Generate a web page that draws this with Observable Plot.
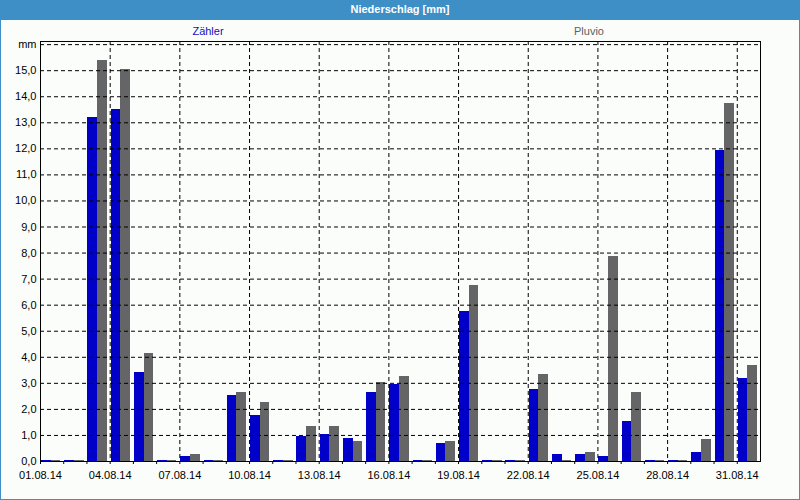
<!DOCTYPE html>
<html>
<head>
<meta charset="utf-8">
<script src="https://cdn.jsdelivr.net/npm/d3@7"></script>
<script src="https://cdn.jsdelivr.net/npm/@observablehq/plot@0.6"></script>
<style>
  html, body { margin: 0; padding: 0; background: #fbfdfb; }
  #title { position: absolute; left: 0; top: 0; width: 800px; height: 20px; background: #3d8fc6; color: #fff;
           font: bold 11px "Liberation Sans", Arial, sans-serif; text-align: center; line-height: 19px; }
  .leg { position: absolute; top: 25px; font: 11px "Liberation Sans", Arial, sans-serif; transform: translateX(-50%); white-space: nowrap; }
  #chart { position: absolute; left: 0; top: 20px; }
  #border { position: absolute; left: 0; top: 0; width: 800px; height: 500px; box-sizing: border-box; border: 1px solid #3d8fc6; pointer-events: none; }
</style>
</head>
<body>
<div id="title">Niederschlag [mm]</div>
<div class="leg" id="leg1" style="left:208px;color:#1010c0">Zähler</div>
<div class="leg" id="leg2" style="left:589px;color:#606060">Pluvio</div>
<div id="chart"></div>
<div id="border"></div>
<script>
// ---- data ----
const days = [
  "2014-08-01","2014-08-02","2014-08-03","2014-08-04","2014-08-05","2014-08-06","2014-08-07","2014-08-08",
  "2014-08-09","2014-08-10","2014-08-11","2014-08-12","2014-08-13","2014-08-14","2014-08-15","2014-08-16",
  "2014-08-17","2014-08-18","2014-08-19","2014-08-20","2014-08-21","2014-08-22","2014-08-23","2014-08-24",
  "2014-08-25","2014-08-26","2014-08-27","2014-08-28","2014-08-29","2014-08-30","2014-08-31"
];
const seriesNames = ["Zähler", "Pluvio"];
const zaehler = [0.05,0.05,13.2,13.5,3.4,0.05,0.2,0.05,2.55,1.75,0.05,0.95,1.05,0.9,2.65,2.95,0.05,0.7,5.75,0.05,0.05,2.75,0.25,0.25,0.2,1.55,0.05,0.05,0.35,11.95,3.2];
const pluvio  = [0.05,0.05,15.4,15.05,4.15,0.05,0.25,0.05,2.65,2.25,0.05,1.35,1.35,0.75,3.05,3.25,0.05,0.75,6.75,0.05,0.05,3.35,0.05,0.35,7.85,2.65,0.05,0.05,0.85,13.75,3.7];
const xTickLabels = ["01.08.14","04.08.14","07.08.14","10.08.14","13.08.14","16.08.14","19.08.14","22.08.14","25.08.14","28.08.14","31.08.14"];
const yTicks = [0,1,2,3,4,5,6,7,8,9,10,11,12,13,14,15,16];
const colors = {"Zähler": "#0000c8", "Pluvio": "#656466"};

// ---- build ----
const parseDay = s => new Date(s + "T00:00:00Z");
const parseLabel = d3.utcParse("%d.%m.%y");
const dayDates = days.map(parseDay);
const labelDates = xTickLabels.map(parseLabel);
const rows = [];
days.forEach((d, i) => {
  rows.push({date: dayDates[i], series: seriesNames[0], value: zaehler[i], h1: 1, h2: 11});
  rows.push({date: dayDates[i], series: seriesNames[1], value: pluvio[i], h1: 11, h2: 21});
});
const endDate = d3.utcMonth.offset(dayDates[0], 1);
const yFmt = d => d === 16 ? "mm" : d.toFixed(1).replace(".", ",");

const chart = Plot.plot({
  width: 800,
  height: 480,
  marginLeft: 40,
  marginRight: 40,
  marginTop: 21,
  marginBottom: 39,
  style: {fontFamily: "'Liberation Sans', Arial, sans-serif", fontSize: "11px", background: "transparent", color: "black"},
  x: {type: "utc", domain: [dayDates[0], endDate]},
  y: {domain: [0, 16.12]},
  marks: [
    Plot.rect(rows, {
      x1: d => d3.utcHour.offset(d.date, d.h1),
      x2: d => d3.utcHour.offset(d.date, d.h2),
      y1: 0, y2: "value",
      fill: d => colors[d.series],
      inset: 0,
      shapeRendering: "crispEdges"
    }),
    Plot.gridY(yTicks.filter(t => t > 0), {stroke: "black", strokeOpacity: 1, strokeDasharray: "4,3"}),
    Plot.gridX(labelDates.slice(1), {stroke: "black", strokeOpacity: 1, strokeDasharray: "4,3"}),
    Plot.axisY({ticks: yTicks, tickSize: 0, tickPadding: 4, tickFormat: yFmt, label: null}),
    Plot.axisX({ticks: dayDates, tickSize: 3, tickFormat: () => "", label: null}),
    Plot.axisX({ticks: labelDates, tickSize: 0, tickPadding: 10, tickFormat: d3.utcFormat("%d.%m.%y"), label: null}),
    Plot.frame({stroke: "black"})
  ]
});
document.getElementById("chart").appendChild(chart);
</script>
</body>
</html>
